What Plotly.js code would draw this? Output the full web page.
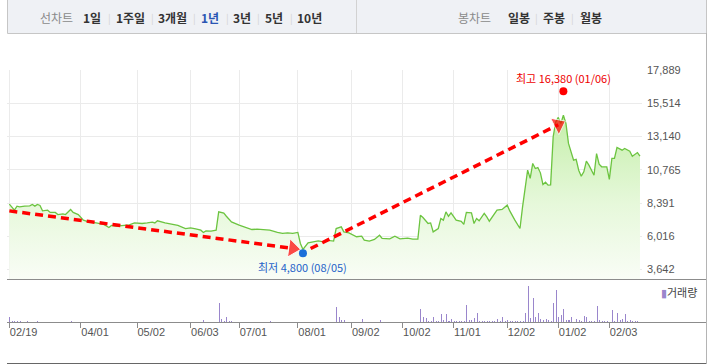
<!DOCTYPE html>
<html><head><meta charset="utf-8">
<script src="https://cdn.plot.ly/plotly-3.0.1.min.js"></script>
<style>html,body{margin:0;padding:0;background:#fff;}#chart{width:710px;height:364px;}</style>
</head><body><div id="chart"></div>
<script>
// ---------- data ----------
const priceDates = ['2019-02-19','2019-02-21','2019-02-22','2019-02-25','2019-02-27','2019-03-04','2019-03-05','2019-03-06','2019-03-07','2019-03-08','2019-03-11','2019-03-13','2019-03-14','2019-03-18','2019-03-19','2019-03-21','2019-03-22','2019-03-26','2019-03-27','2019-03-29','2019-04-02','2019-04-04','2019-04-09','2019-04-12','2019-04-16','2019-04-17','2019-04-19','2019-04-24','2019-04-26','2019-04-30','2019-05-07','2019-05-09','2019-05-13','2019-05-14','2019-05-15','2019-05-20','2019-05-22','2019-05-27','2019-05-30','2019-06-03','2019-06-05','2019-06-10','2019-06-11','2019-06-12','2019-06-14','2019-06-18','2019-06-19','2019-06-21','2019-06-24','2019-06-26','2019-07-01','2019-07-03','2019-07-08','2019-07-10','2019-07-15','2019-07-17','2019-07-22','2019-07-24','2019-07-26','2019-07-30','2019-08-01','2019-08-02','2019-08-05','2019-08-07','2019-08-09','2019-08-13','2019-08-16','2019-08-19','2019-08-22','2019-08-23','2019-08-27','2019-08-28','2019-08-30','2019-09-04','2019-09-06','2019-09-09','2019-09-11','2019-09-17','2019-09-19','2019-09-20','2019-09-25','2019-09-27','2019-10-01','2019-10-07','2019-10-10','2019-10-14','2019-10-15','2019-10-16','2019-10-18','2019-10-21','2019-10-22','2019-10-24','2019-10-25','2019-10-28','2019-10-29','2019-10-30','2019-10-31','2019-11-04','2019-11-06','2019-11-07','2019-11-08','2019-11-12','2019-11-13','2019-11-14','2019-11-15','2019-11-19','2019-11-20','2019-11-21','2019-11-26','2019-11-28','2019-12-02','2019-12-03','2019-12-05','2019-12-09','2019-12-10','2019-12-12','2019-12-13','2019-12-16','2019-12-17','2019-12-18','2019-12-19','2019-12-20','2019-12-23','2019-12-24','2019-12-26','2019-12-27','2019-12-30','2020-01-02','2020-01-03','2020-01-06','2020-01-07','2020-01-08','2020-01-10','2020-01-13','2020-01-14','2020-01-15','2020-01-16','2020-01-17','2020-01-20','2020-01-22','2020-01-23','2020-01-28','2020-01-29','2020-01-31','2020-02-03','2020-02-04','2020-02-05','2020-02-06','2020-02-10','2020-02-11','2020-02-13','2020-02-14','2020-02-18','2020-02-19'];
const priceValues = [8310,7880,8170,8120,8170,8190,8290,8170,8290,8220,7830,7880,7720,7720,7570,7620,7570,7930,7720,7570,7170,7040,6970,6860,6640,6790,6740,6790,6830,6970,6930,6970,7020,6970,7120,6970,6900,6790,6570,6620,6540,6450,6290,6400,6380,6450,7760,7670,7450,7040,6810,6690,6500,6520,6500,6450,6290,6220,6260,6220,6290,5500,5070,5540,5620,5690,5620,5740,5670,6570,6690,6330,6260,5980,6020,5740,5670,5790,6090,5860,5830,6020,5830,5880,5810,5810,7520,7360,6930,6970,6330,6570,7290,7170,7760,7450,7690,7170,7090,6860,7720,7690,6930,7290,7120,7650,7400,7090,7880,7930,8240,7830,7170,6570,8100,10740,10150,11220,10860,10930,10550,9720,9880,9670,9690,13120,14190,14510,14080,14670,14080,12650,11460,11510,10740,10310,10620,11380,11100,10380,11930,11170,10980,10980,10080,11580,11580,12360,12170,12290,12100,11740,12000,11740];

const volumeDates = ['2019-02-19','2019-02-20','2019-02-21','2019-02-22','2019-02-25','2019-02-28','2019-03-07','2019-03-26','2019-06-11','2019-06-19','2019-06-20','2019-06-21','2019-06-24','2019-06-25','2019-06-26','2019-07-17','2019-08-23','2019-08-26','2019-08-27','2019-08-28','2019-09-06','2019-09-19','2019-10-15','2019-10-16','2019-10-17','2019-10-18','2019-10-21','2019-10-22','2019-10-23','2019-10-24','2019-10-25','2019-10-28','2019-10-29','2019-10-30','2019-10-31','2019-11-01','2019-11-04','2019-11-05','2019-11-06','2019-11-07','2019-11-08','2019-11-11','2019-11-12','2019-11-13','2019-11-14','2019-11-15','2019-11-18','2019-11-19','2019-11-20','2019-11-21','2019-11-22','2019-11-25','2019-11-26','2019-11-27','2019-11-28','2019-11-29','2019-12-02','2019-12-03','2019-12-04','2019-12-05','2019-12-06','2019-12-09','2019-12-10','2019-12-11','2019-12-12','2019-12-13','2019-12-16','2019-12-17','2019-12-18','2019-12-19','2019-12-20','2019-12-23','2019-12-24','2019-12-26','2019-12-27','2019-12-30','2020-01-02','2020-01-03','2020-01-06','2020-01-07','2020-01-08','2020-01-09','2020-01-13','2020-01-14','2020-01-15','2020-01-16','2020-01-17','2020-01-20','2020-01-21','2020-01-22','2020-01-23','2020-01-28','2020-01-29','2020-01-30','2020-01-31','2020-02-04','2020-02-05','2020-02-06','2020-02-07','2020-02-10','2020-02-11','2020-02-12','2020-02-13','2020-02-14','2020-02-17','2020-02-18'];
const volumeValues = [265000,65000,65000,65000,65000,65000,65000,65000,100000,965000,165000,75000,265000,65000,65000,65000,765000,265000,100000,100000,150000,100000,650000,265000,215000,65000,65000,250000,65000,65000,415000,115000,415000,65000,150000,65000,65000,65000,65000,65000,850000,100000,100000,215000,465000,65000,65000,65000,65000,65000,65000,65000,150000,65000,250000,65000,100000,65000,65000,65000,65000,65000,65000,465000,1800000,200000,1200000,265000,435000,165000,100000,150000,115000,65000,950000,1600000,265000,350000,665000,100000,100000,250000,165000,100000,65000,300000,235000,65000,65000,65000,815000,100000,65000,65000,65000,600000,65000,465000,100000,135000,415000,65000,100000,65000,65000,65000];

const tickDates = ['2019-02-19','2019-04-01','2019-05-02','2019-06-03','2019-07-01','2019-08-01','2019-09-02','2019-10-02','2019-11-01','2019-12-02','2020-01-02','2020-02-03'];
const tickLabels = ['02/19','04/01','05/02','06/03','07/01','08/01','09/02','10/02','11/01','12/02','01/02','02/03'];
const priceTicks = [3642,6016,8391,10765,13140,15514,17889];

const extremeLabels = ['최저','최고'];
const extremeDates = ['2019-08-05','2020-01-06'];
const extremeValues = [4800,16380];

const trendDownDates = ['2019-02-19','2019-07-30'];
const trendDownValues = [7830,5150];
const trendUpDates = ['2019-08-08','2020-01-02'];
const trendUpValues = [5140,13990];

const marketHolidays = ['2019-03-01','2019-05-01','2019-05-06','2019-06-06','2019-08-15','2019-09-12','2019-09-13','2019-10-03','2019-10-09','2019-12-25','2019-12-31','2020-01-01','2020-01-24','2020-01-27'];

const lineTypeLabel = '선차트';
const periodLabels = ['1일','1주일','3개월','1년','3년','5년','10년'];
const candleTypeLabel = '봉차트';
const candleLabels = ['일봉','주봉','월봉'];
const volumeLabel = '거래량';

// ---------- geometry helpers (layout only) ----------
const L = 7, R = 68, T = 70, B = 42, W = 710, H = 364;
const PW = W - L - R, PH = H - T - B;
const px = x => (x - L) / PW;
const py = y => (H - B - y) / PH;

const rb = [{bounds:['sat','mon']},{values:marketHolidays}];
const tickFont = {family:'Liberation Sans, Arial, sans-serif', size:11, color:'#555'};
const kr = 'Noto Sans CJK KR, sans-serif';

const traces = [
  {type:'scatter', x:priceDates, y:priceValues, xaxis:'x', yaxis:'y', mode:'lines',
   line:{color:'#6cc440', width:1.3}, fill:'tozeroy',
   fillgradient:{type:'vertical', start:2962, stop:15000, colorscale:[[0,'#f9fdf6'],[0.45,'#e6f8da'],[1,'#c3eea8']]},
   hoverinfo:'skip'},
  {type:'scatter', x:trendDownDates, y:trendDownValues, xaxis:'x', yaxis:'y', mode:'lines+markers',
   line:{color:'#ff0000', width:3.5, dash:'8px,5px'},
   marker:{symbol:'triangle-up', size:[0,16], angleref:'previous', color:'#ff0000'}, cliponaxis:false, hoverinfo:'skip'},
  {type:'scatter', x:trendUpDates, y:trendUpValues, xaxis:'x', yaxis:'y', mode:'lines+markers',
   line:{color:'#ff0000', width:3.5, dash:'8px,5px'},
   marker:{symbol:'triangle-up', size:[0,16], angleref:'previous', color:'#ff0000'}, cliponaxis:false, hoverinfo:'skip'},
  {type:'scatter', x:extremeDates, y:extremeValues, xaxis:'x', yaxis:'y', mode:'markers',
   marker:{size:8, color:['#1b6fd9','#ff0000']}, cliponaxis:false, hoverinfo:'skip'},
  {type:'bar', x:volumeDates, y:volumeValues, xaxis:'x2', yaxis:'y2',
   width:0.4*86400000, offset:0, marker:{color:'#9a86cc', line:{width:0}}, hoverinfo:'skip'}
];

const mmdd = d => d.slice(5).replace('-','/');
const fmt = v => v.toLocaleString('en-US');

const annotations = [];
const paperText = (x, y, text, font, xanchor) => annotations.push({x:px(x), y:py(y), xref:'paper', yref:'paper',
  showarrow:false, text:text, font:font, xanchor:xanchor||'center', yanchor:'middle'});
// extremes
annotations.push({x:extremeDates[0], y:extremeValues[0], xref:'x', yref:'y', showarrow:false, xanchor:'center',
  text:extremeLabels[0]+' '+fmt(extremeValues[0])+' ('+mmdd(extremeDates[0])+')',
  yanchor:'top', yshift:-4, font:{family:kr, size:11, color:'#1f62c9'}});
annotations.push({x:extremeDates[1], y:extremeValues[1], xref:'x', yref:'y', showarrow:false, xanchor:'center',
  text:extremeLabels[1]+' '+fmt(extremeValues[1])+' ('+mmdd(extremeDates[1])+')',
  yanchor:'bottom', yshift:3, font:{family:kr, size:11, color:'#ee0000'}});
// volume legend
paperText(659, 292, '<span style="color:#9a86cc">▮</span>'+volumeLabel, {family:kr, size:11, color:'#444'}, 'left');
// top bar
const barY = 17;
paperText(56, barY, lineTypeLabel, {family:kr, size:12, color:'#8a8a8a'});
const periodX = [92,130,172,210,242,274,309];
const sepX = [109,152,194,227,258,291];
periodLabels.forEach((t,i)=>paperText(periodX[i], barY, '<b>'+t+'</b>', {family:kr, size:12, color: t==='1년' ? '#2a55b3' : '#333'}));
sepX.forEach(x=>paperText(x, barY, '|', {family:kr, size:10, color:'#d4d4d4'}));
paperText(474, barY, candleTypeLabel, {family:kr, size:12, color:'#8a8a8a'});
const candleX = [519,554,591];
candleLabels.forEach((t,i)=>paperText(candleX[i], barY, '<b>'+t+'</b>', {family:kr, size:12, color:'#333'}));
[536,572].forEach(x=>paperText(x, barY, '|', {family:kr, size:10, color:'#d4d4d4'}));

const shapes = [
  {type:'rect', xref:'paper', yref:'paper', x0:px(7.5), x1:px(706.5), y0:py(33.5), y1:py(-2), fillcolor:'#eff1f5', line:{color:'#c6c6c6', width:1}, layer:'below'},
  {type:'line', xref:'paper', yref:'paper', x0:px(356.5), x1:px(356.5), y0:py(33), y1:py(0), line:{color:'#d2d2d2', width:1}},
  {type:'line', xref:'paper', yref:'paper', x0:px(7), x1:px(706), y0:py(279.5), y1:py(279.5), line:{color:'#8c8c8c', width:1}},
  {type:'line', xref:'paper', yref:'paper', x0:px(7), x1:px(706), y0:py(322.5), y1:py(322.5), line:{color:'#8c8c8c', width:1}},
  {type:'line', xref:'paper', yref:'paper', x0:px(706.5), x1:px(706.5), y0:py(33), y1:py(364), line:{color:'#b4b4b4', width:1}},
  {type:'line', xref:'paper', yref:'paper', x0:px(7), x1:px(706), y0:py(363.5), y1:py(363.5), line:{color:'#666', width:1}}
];

const layout = {
  width:W, height:H, margin:{l:L, r:R, t:T, b:B, pad:0},
  paper_bgcolor:'#ffffff', plot_bgcolor:'rgba(0,0,0,0)', showlegend:false,
  xaxis:{type:'date', anchor:'y', domain:[0,1], range:['2019-02-18 02:00','2020-02-19 19:00'], rangebreaks:rb,
    tickmode:'array', tickvals:tickDates, ticktext:tickLabels, showticklabels:false, ticks:'',
    showgrid:true, gridcolor:'#ebebeb', gridwidth:1, zeroline:false, showline:false, fixedrange:true},
  xaxis2:{type:'date', anchor:'y2', matches:'x', domain:[0,1], rangebreaks:rb,
    tickmode:'array', tickvals:tickDates, ticktext:tickLabels, showgrid:false, ticks:'outside', ticklen:5, tickcolor:'#8c8c8c',
    ticklabelposition:'outside right', tickfont:tickFont, zeroline:false, showline:false, fixedrange:true},
  yaxis:{domain:[py(279),1], range:[2962,17900], side:'right', anchor:'x', tickmode:'array', tickvals:priceTicks,
    tickformat:',d', ticks:'', ticklabelstandoff:4, tickfont:tickFont, showgrid:true, gridcolor:'#ebebeb', zeroline:false, showline:false, fixedrange:true},
  yaxis2:{domain:[0,py(279)], range:[0,2150000], anchor:'x2', showgrid:false, showticklabels:false, ticks:'', zeroline:false, showline:false, fixedrange:true},
  annotations:annotations, shapes:shapes, bargap:0
};

Plotly.newPlot('chart', traces, layout, {staticPlot:true, displayModeBar:false});
</script>
</body></html>
